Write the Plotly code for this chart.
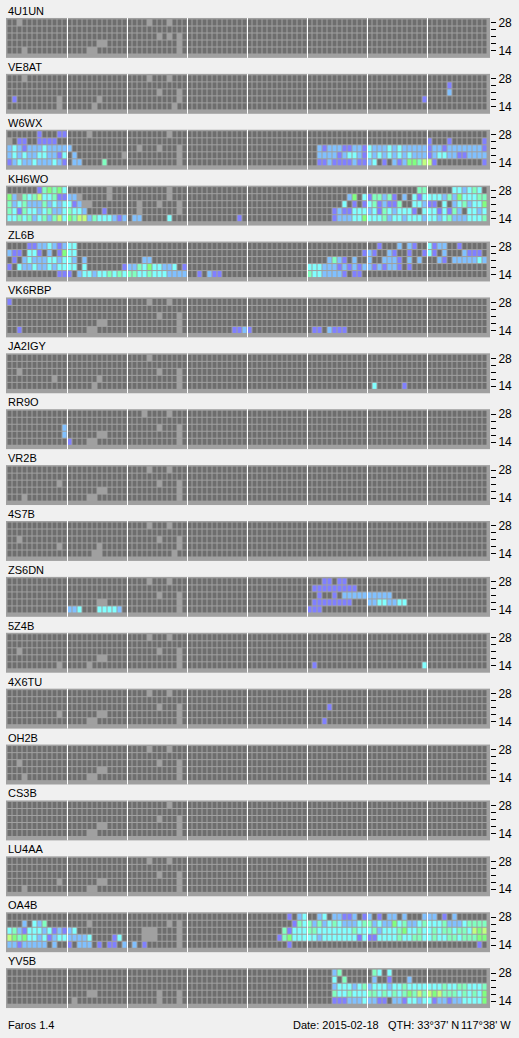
import plotly.graph_objects as go

W, H = 519, 1038

beacons = ["4U1UN", "VE8AT", "W6WX", "KH6WO", "ZL6B", "VK6RBP", "JA2IGY", "RR9O", "VR2B",
           "4S7B", "ZS6DN", "5Z4B", "4X6TU", "OH2B", "CS3B", "LU4AA", "OA4B", "YV5B"]
band_ticks = ["14", "", "", "", "28"]          # bottom row to top row
slots = list(range(96))                         # 96 quarter-hour slots (00:00-24:00)
level_colors = ["#6e6e6e", "#8080ff", "#80c0ff", "#80ffff", "#80ffc0", "#80ff80", "#c0ff80"]

# Each beacon: 5 rows, top (28 MHz) to bottom (14 MHz); 96 slots in groups of 12 (3 h).
# '.' = no signal, '-' = no data, '1'..'6' = signal level
snr_4U1UN = [
    "..-......... ............ ....-...-... ............ ............ ............ ............ ............",
    "............ ............ ............ ............ ............ ............ ............ ............",
    "............ ............ ......-.-.-. ............ ............ ............ ............ ............",
    "............ ......--.... ..........-. ............ ............ ............ ............ ............",
    "...-........ ....--...... ..........-. ............ ............ ............ ............ ............",
]
snr_VE8AT = [
    "...-........ ............ ....-...-... ............ ............ ............ ............ ............",
    "............ ............ ............ ............ ............ ............ ............ ....1.......",
    "............ ............ ......-...-. ............ ............ ............ ............ ....2.......",
    ".1........-. ......-..... ..........-. ............ ............ ............ ...........1 ............",
    "..........-. .....-...... .........-.. ............ ............ ............ ............ ............",
]
snr_W6WX = [
    "......1...11 ....-....... ........-... ............ ............ ............ ............ ............",
    "-.11..1111.. ............ ............ ............ ............ ............ ............ 1...1......1",
    "232122232222 2........... ..-...-...-. ............ ............ ..2122211221 322232322222 122122222221",
    "232322332213 .2.........- ..........-. ............ ............ ..2222123321 323232323222 123322112222",
    "123223222321 .22....4.... ..........-. ............ ............ ..1121111211 23.1.2125546 61.........1",
]
snr_KH6WO = [
    "......145453 ........-... ........-... ............ ............ ............ ..........44 .....332343.",
    "52-434633411 22-.....-... ........-... ............ ............ ........25.3 144241.2.313 333242533344",
    "423422242323 312--....... ..-...-...-. ............ ............ .......3.1.1 3412114..332 11.3.2342335",
    "431433234223 4332...1.... ..-.......-. ............ ............ .....1211333 2314323331.3 3313142.3323",
    "334342342463 546624333212 .22.....3... ..........1. ............ .....1222335 333423323332 332342223334",
]
snr_ZL6B = [
    "....11223212 33.......... ............ ............ ............ ............ ..1...2.21.. 3122..1.....",
    "211.331.2.15 33.......... ............ ............ ............ ...........1 21..21..1..1 31.2...2111.",
    ".1.232223323 32.2........ ...22....... ............ ............ ....2421.2.. 2..2221.2.2. ..21.2222232",
    "1.3223223233 33.3.......1 2243533223.1 ............ ............ 333222121212 2121221.1... ............",
    "..........11 1.2332334343 443343332222 ..1.211..... ............ 43322221.11. ............ ............",
]
snr_VK6RBP = [
    "1........... ............ ....-...-... ............ ............ ............ ............ ............",
    "............ ............ ............ ............ ............ ............ ............ ............",
    "............ ............ ......-...-. ............ ............ ............ ............ ............",
    "............ ......--.... ..........-. ............ ............ ............ ............ ............",
    "..1......... ....--...... ..........-. .........112 1........... .11.2111.... ............ ............",
]
snr_JA2IGY = [
    "............ ............ ....-....... ............ ............ ............ ............ ............",
    "............ ............ ............ ............ ............ ............ ............ ............",
    "..-......... ............ ......-...-. ............ ............ ............ ............ ............",
    ".........-.. ......-..... ..........-. ............ ............ ............ ............ ............",
    "............ .....-...... ..........-. ............ ............ ............ .3.....1.... ............",
]
snr_RR9O = [
    "............ ............ ...-....-... ............ ............ ............ ............ ............",
    "............ ............ ............ ............ ............ ............ ............ ............",
    "...........2 ............ ......-...-. ............ ............ ............ ............ ............",
    "...........2 ......--.... ..........-. ............ ............ ............ ............ ............",
    "............ 1...--...... ..........-. ............ ............ ............ ............ ............",
]
snr_VR2B = [
    "............ ............ ....-...-... ............ ............ ............ ............ ............",
    "............ ............ ............ ............ ............ ............ ............ ............",
    "..........-. ............ ......-...-. ............ ............ ............ ............ ............",
    "............ ......--.... ..........-. ............ ............ ............ ............ ............",
    "...-........ ....--...... ..........-. ............ ............ ............ ............ ............",
]
snr_4S7B = [
    "............ ............ ....-...-... ............ ............ ............ ............ ............",
    "............ ............ ............ ............ ............ ............ ............ ............",
    "..-......... ............ ......-...-. ............ ............ ............ ............ ............",
    "..........-. ......-..... ..........-. ............ ............ ............ ............ ............",
    "............ .....--..... .........-.. ............ ............ ............ ............ ............",
]
snr_ZS6DN = [
    "............ ............ ....-...-... ............ ............ ...11.11.... ............ ............",
    "............ ............ ............ ............ ............ .111111111.. ............ ............",
    "............ ............ ......-...-. ............ ............ ..1..1.22222 22222....... ............",
    "............ ......--.... ..........-. ............ ............ .11111111... 22332233.... ............",
    "............ 223...33332. ..........-. ............ ............ 111......... ............ ............",
]
snr_5Z4B = [
    "............ ............ ....-...-... ............ ............ ............ ............ ............",
    "............ ............ ............ ............ ............ ............ ............ ............",
    "..-......... ............ ......-...-. ............ ............ ............ ............ ............",
    "............ ......--.... ..........-. ............ ............ ............ ............ ............",
    "..........-. ....-....... ..........-. ............ ............ .1.......... ...........3 ............",
]
snr_4X6TU = [
    "............ ............ ....-...-... ............ ............ ............ ............ ............",
    "............ ............ ............ ............ ............ ............ ............ ............",
    "............ ............ ......-...-. ............ ............ ....1....... ............ ............",
    "..........-. ......--.... ..........-. ............ ............ ............ ............ ............",
    "............ ....--...... ..........-. ............ ............ ...1........ ............ ............",
]
snr_OH2B = [
    "............ ............ ....-...-... ............ ............ ............ ............ ............",
    "............ ............ ............ ............ ............ ............ ............ ............",
    "..-......... ............ ......-...-. ............ ............ ............ ............ ............",
    "............ ......--.... ..........-. ............ ............ ............ ............ ............",
    "...-........ ....--...... ..........-. ............ ............ ............ ............ ............",
]
snr_CS3B = [
    "............ ............ ........-... ............ ............ ............ ............ ............",
    "............ ............ ............ ............ ............ ............ ............ ............",
    "............ ............ ......-...-. ............ ............ ............ ............ ............",
    "............ ......--.... ..........-. ............ ............ ............ ............ ............",
    "............ ....--...... ..........-. ............ ............ ............ ............ ............",
]
snr_LU4AA = [
    "............ ............ ....-...-... ............ ............ ............ ............ ............",
    "............ ............ ............ ............ ............ ............ ............ ............",
    "............ ............ ......-...-. ............ ............ ............ ............ ............",
    "..........-. ......--.... ..........-. ............ ............ ............ ............ ............",
    "...-........ ....--...... ..........-. ............ ............ ............ ............ ............",
]
snr_OA4B = [
    "............ ............ ............ ............ ........1.23 ..23.22112.1 2.1.22.2...2 22.1.2......",
    "...2.324.... ....-....... ........-.-. ............ .........143 424234322234 423225342234 333422234444",
    "342133323121 23.......... ...---....-. ............ .......41333 443333333433 342333453343 343443443656",
    "654533231233 22223....13. ...---....-. ............ ......145333 332333333313 113333433443 343344344455",
    "22122222.2.. 1.222.1.11.2 .2.1......-. ............ ........1... ............ ............ ..........1.",
]
snr_YV5B = [
    "............ ............ ............ ............ ............ .....24..... .43.3....... ............",
    "............ ............ ............ ............ ............ .....3.4.... .2..1...2... ............",
    "............ ............ ............ ............ ............ .....2333234 233323343333 333433443334",
    "............ ....--...... ......-...-. ............ ............ .....4334333 443434345464 656444343435",
    "............ .-.......... ......-...-. ............ ............ .....1112223 2211.2213323 312212233335",
]

grids = {
    "4U1UN": snr_4U1UN, "VE8AT": snr_VE8AT, "W6WX": snr_W6WX, "KH6WO": snr_KH6WO,
    "ZL6B": snr_ZL6B, "VK6RBP": snr_VK6RBP, "JA2IGY": snr_JA2IGY, "RR9O": snr_RR9O,
    "VR2B": snr_VR2B, "4S7B": snr_4S7B, "ZS6DN": snr_ZS6DN, "5Z4B": snr_5Z4B,
    "4X6TU": snr_4X6TU, "OH2B": snr_OH2B, "CS3B": snr_CS3B, "LU4AA": snr_LU4AA,
    "OA4B": snr_OA4B, "YV5B": snr_YV5B,
}

footer_left = "Faros 1.4"
footer_date = "Date: 2015-02-18"
footer_qth = "QTH: 33°37' N"
footer_lon = "117°38' W"


def decode(rows):
    z = []
    for r in reversed(rows):
        s = r.replace(" ", "")
        s = (s + "." * 96)[:96]
        z.append([None if ch == "-" else (int(ch) if ch.isdigit() else 0) for ch in s])
    return z


n = len(level_colors)
cs = []
for i, c in enumerate(level_colors):
    cs.append([i / n, c])
    cs.append([(i + 1) / n, c])

FONT = "Liberation Sans, Arial, sans-serif"
X0, X1 = 6, 490          # panel left/right px
TOP0, PITCH, PH = 16, 56, 40

fig = go.Figure()
layout = dict(
    width=W, height=H,
    margin=dict(l=X0, r=W - X1, t=0, b=0, pad=0),
    paper_bgcolor="#f0f0f0", plot_bgcolor="#a0a0a0",
    showlegend=False,
    font=dict(family=FONT, size=12, color="#000000"),
)
shapes = []
annotations = []


def py(px):
    return 1 - px / H


def pxx(px):
    return (px - X0) / (X1 - X0)


for k, name in enumerate(beacons):
    sfx = "" if k == 0 else str(k + 1)
    top = TOP0 + PITCH * k
    fig.add_trace(go.Heatmap(
        z=decode(grids[name]), x=slots, y=[0, 1, 2, 3, 4],
        xaxis="x" + sfx, yaxis="y" + sfx,
        colorscale=cs, zmin=-0.5, zmax=6.5, showscale=False,
        xgap=1, ygap=1, hoverinfo="skip",
    ))
    layout["xaxis" + sfx] = dict(domain=[0, 1], range=[-0.8, 96.0], visible=False,
                                 anchor="y" + sfx, fixedrange=True)
    layout["yaxis" + sfx] = dict(
        domain=[py(top + PH), py(top)], range=[-1.0, 4.5 + 1.5 / 7],
        anchor="x" + sfx, side="right", tickmode="array",
        tickvals=[0, 1, 2, 3, 4], ticktext=band_ticks,
        ticks="outside", ticklen=5, tickwidth=1, tickcolor="#000000",
        showgrid=False, zeroline=False, showline=False, fixedrange=True,
        tickfont=dict(family=FONT, size=12, color="#000000"),
    )
    for s in range(1, 8):
        shapes.append(dict(type="line", xref="x" + sfx, yref="y" + sfx + " domain",
                           x0=12 * s - 0.5, x1=12 * s - 0.5, y0=0, y1=1,
                           line=dict(color="#ffffff", width=1)))
    annotations.append(dict(text=name, xref="paper", yref="paper", x=0, y=py(top - 7),
                            xanchor="left", yanchor="middle", showarrow=False,
                            font=dict(family=FONT, size=11, color="#000000")))

for txt, xp, anchor in [(footer_left, 6, "left"), (footer_date, 291, "left"),
                        (footer_qth, 386, "left"), (footer_lon, 513, "right")]:
    annotations.append(dict(text=txt, xref="paper", yref="paper", x=pxx(xp), y=py(1025),
                            xanchor=anchor, yanchor="middle", showarrow=False,
                            font=dict(family=FONT, size=11, color="#000000")))

layout["shapes"] = shapes
layout["annotations"] = annotations
fig.update_layout(**layout)
fig.write_html("out.html", config={"displayModeBar": False},
               post_script="document.body.style.margin='0';document.body.style.overflow='hidden';")
